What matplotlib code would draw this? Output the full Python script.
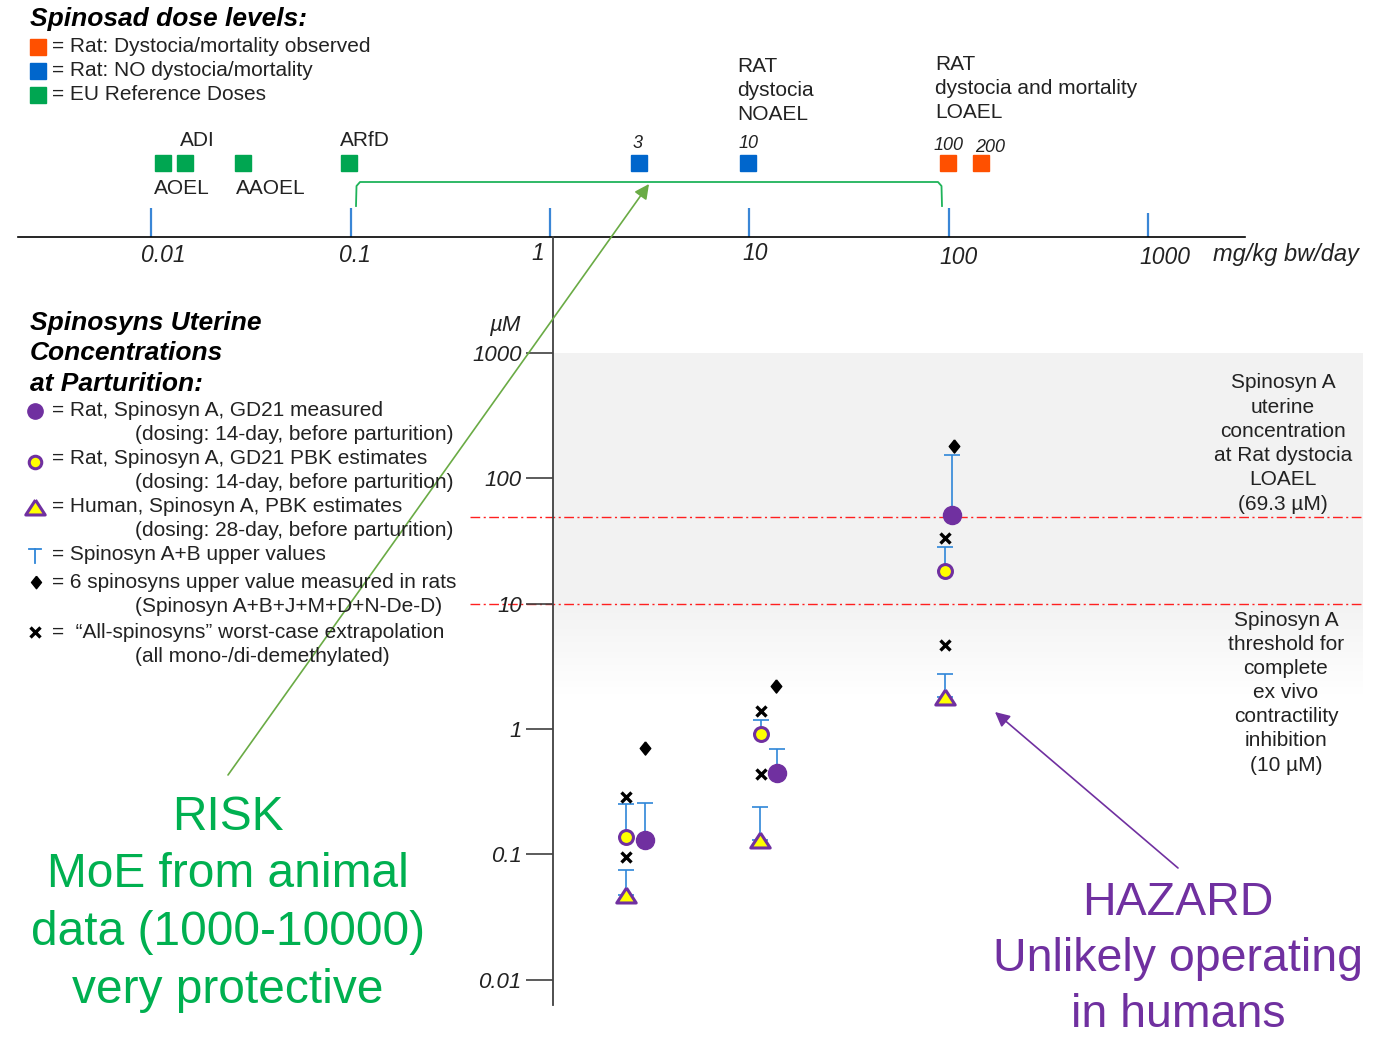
import matplotlib
matplotlib.use("Agg")
import matplotlib.pyplot as plt
import numpy as np

plt.rcParams['font.family'] = ['Liberation Sans', 'DejaVu Sans']

# ---- dose axis (mg/kg bw/day) ----
ref_dose = [0.0115, 0.0148, 0.029, 0.098]      # AOEL, ADI, AAOEL, ARfD
rat_no_dose = [2.8, 9.8]
rat_no_lbl = ['3', '10']
rat_obs_dose = [99, 145]
rat_obs_lbl = ['100', '200']
decades = [0.01, 0.1, 1, 10, 100, 1000]
decade_lbl = ['0.01', '0.1', '1', '10', '100', '1000']

# ---- uterine concentrations (uM) ----
meas_x = [2.99, 13.7, 103.4]
meas_y = [0.130, 0.448, 51]
meas_up = [0.255, 0.69, 154]
pbk_x = [2.40, 11.44, 95.2]
pbk_y = [0.138, 0.907, 18.2]
pbk_up = [0.251, 1.17, 28.5]
hum_x = [2.40, 11.3, 96.0]
hum_y = [0.0476, 0.130, 1.81]
hum_up = [0.075, 0.237, 2.75]
six_x = [2.99, 13.6, 106]
six_y = [0.70, 2.20, 181]
all_x = [2.40, 2.40, 11.4, 11.4, 95.5, 95.5]
all_y = [0.288, 0.0957, 1.40, 0.435, 33.3, 4.68]
loael_um = 49
thresh_um = 10
conc_ticks = [1000, 100, 10, 1, 0.1, 0.01]
conc_lbl = ['1000', '100', '10', '1', '0.1', '0.01']

ORANGE = '#ff5000'
BLUE = '#0066cc'
GREEN = '#00a651'
PURPLE = '#7030a0'
YELLOW = '#ffff00'
EBLUE = '#2f86d8'
TXT = '#222222'

W, H = 1388, 1042
fig = plt.figure(figsize=(W / 100, H / 100), dpi=100)

# pixel calibration of the log dose scale
X0, PXD = 550.0, 199.4
def dose_at(px):
    return 10 ** ((px - X0) / PXD)
Y0, PYD = 729.0, 125.3
def conc_at(py):
    return 10 ** ((Y0 - py) / PYD)

def fig_rect(l, t, r, b):
    return [l / W, 1 - b / H, (r - l) / W, (b - t) / H]

# ---------- top dose axis ----------
axt = fig.add_axes(fig_rect(18, 137, 1245, 237))
axt.set_xscale('log')
axt.set_xlim(dose_at(18), dose_at(1245))
axt.set_ylim(0, 1)
axt.patch.set_alpha(0)
for s in ['top', 'left', 'right']:
    axt.spines[s].set_visible(False)
axt.spines['bottom'].set_color('black')
axt.spines['bottom'].set_linewidth(1.2)
axt.set_xticks([])
axt.set_yticks([])
axt.minorticks_off()

axt.vlines(decades, 0, [0.29, 0.29, 0.29, 0.29, 0.29, 0.24], color='#3a86d6', lw=1.6)
lbl_dx = [12, 4, -12, 6, 10, 17]
lbl_dy = [-18, -18, -16, -16, -20, -20]
for d, s, dx, dy in zip(decades, decade_lbl, lbl_dx, lbl_dy):
    axt.annotate(s, xy=(d, 0), xytext=(dx, dy), textcoords='offset pixels',
                 ha='center', va='center', fontsize=16.5, style='italic', color=TXT,
                 annotation_clip=False)

sq_y = [0.74] * 4
axt.plot(ref_dose, sq_y, 's', ms=11.5, color=GREEN, mec=GREEN, clip_on=False)
axt.plot(rat_no_dose, sq_y[:2], 's', ms=11.5, color=BLUE, mec=BLUE, clip_on=False)
axt.plot(rat_obs_dose, sq_y[:2], 's', ms=11.5, color=ORANGE, mec=ORANGE, clip_on=False)
for d, s, off in zip(rat_no_dose + rat_obs_dose, rat_no_lbl + rat_obs_lbl,
                     [(-2, 20), (1, 20), (1, 17), (9, 15)]):
    axt.annotate(s, xy=(d, 0.74), xytext=off, textcoords='offset pixels',
                 ha='center', va='center', fontsize=13, style='italic', color=TXT,
                 annotation_clip=False)

# ---------- concentration panel ----------
ax = fig.add_axes(fig_rect(553, 237, 1363, 1005))
ax.set_xscale('log')
ax.set_yscale('log')
ax.set_xlim(dose_at(553), dose_at(1363))
ax.set_ylim(conc_at(1005), conc_at(237))
ax.patch.set_alpha(0)
for s in ['top', 'right', 'bottom']:
    ax.spines[s].set_visible(False)
ax.spines['left'].set_color('#404040')
ax.spines['left'].set_linewidth(1.3)
ax.set_xticks([])
ax.minorticks_off()
ax.set_yticks(conc_ticks)
ax.set_yticklabels(conc_lbl, fontsize=16, style='italic', color=TXT)
ax.tick_params(axis='y', length=19.5, width=1.2, color='#404040', pad=3)
ax.tick_params(axis='y', which='minor', length=0)

# grey band with fade below the 10 uM line
ax.axhspan(thresh_um, 1000, color='#f2f2f2', lw=0, zorder=0)
steps = np.linspace(1.0, 0.23, 31)
for i in range(30):
    c = 0.949 + (1 - 0.949) * (i + 1) / 30
    ax.axhspan(10 ** steps[i + 1], 10 ** steps[i], color=(c, c, c), lw=0, zorder=0)

for v in [loael_um, thresh_um]:
    ax.axhline(v, xmin=-0.103, xmax=1.0, color='#ff2020', lw=1.0,
               ls=(0, (7, 2.5, 1.5, 2.5)), clip_on=False, zorder=1)

def upper_bars(x, y, up):
    y = np.array(y)
    ax.errorbar(x, y, yerr=[np.zeros_like(y), np.array(up) - y], fmt='none',
                ecolor=EBLUE, elinewidth=1.2, capsize=5.5, capthick=1.2, zorder=2)

upper_bars(meas_x, meas_y, meas_up)
upper_bars(pbk_x, pbk_y, pbk_up)
upper_bars(hum_x, hum_y, hum_up)

tri = [(0, 1), (-1.3, -1), (1.3, -1), (0, 1)]
dia = [(0, 1), (0.8, 0), (0, -1), (-0.8, 0), (0, 1)]
ax.plot(meas_x, meas_y, 'o', ms=13, color=PURPLE, mec=PURPLE, zorder=3)
ax.plot(pbk_x, pbk_y, 'o', ms=10, color=YELLOW, mec=PURPLE, mew=2.2, zorder=3)
ax.plot(hum_x, hum_y, ls='none', marker=tri, ms=14, color=YELLOW, mec=PURPLE,
        mew=2.2, zorder=3)
ax.plot(six_x, six_y, ls='none', marker=dia, ms=9.5, color='black', zorder=3)
ax.plot(all_x, all_y, 'x', ms=6.5, mew=2.4, color='black', zorder=3)

# ---------- overlay: legends, labels, arrows ----------
ov = fig.add_axes([0, 0, 1, 1])
ov.set_xlim(0, W)
ov.set_ylim(H, 0)
ov.axis('off')
ov.patch.set_alpha(0)

def lines_at(x, y0, dy, lines, **kw):
    for i, s in enumerate(lines):
        ov.text(x, y0 + i * dy, s, va='center', **kw)

kw = dict(fontsize=15, color=TXT)
ov.text(30, 19, 'Spinosad dose levels:', va='center', fontsize=19,
        weight='bold', style='italic', color='black')
for yy, c, s in zip([47, 71, 95], [ORANGE, BLUE, GREEN],
                    ['= Rat: Dystocia/mortality observed', '= Rat: NO dystocia/mortality',
                     '= EU Reference Doses']):
    ov.plot(38, yy, 's', ms=11.5, color=c, mec=c)
    ov.text(52, yy, s, va='center', **kw)

ov.text(197, 141, 'ADI', ha='center', va='center', **kw)
ov.text(182, 188, 'AOEL', ha='center', va='center', **kw)
ov.text(271, 188, 'AAOEL', ha='center', va='center', **kw)
ov.text(365, 140, 'ARfD', ha='center', va='center', **kw)
lines_at(737, 67, 24, ['RAT', 'dystocia', 'NOAEL'], **kw)
lines_at(935, 64, 24, ['RAT', 'dystocia and mortality', 'LOAEL'], **kw)
ov.text(1213, 255, 'mg/kg bw/day', va='center', fontsize=17, style='italic', color=TXT)
ov.text(505, 326, 'µM', ha='center', va='center', fontsize=16, style='italic', color=TXT)

# green bracket and arrow
ov.plot([356, 356.5, 360, 938, 941.5, 942], [206, 186, 182, 182, 186, 206],
        color='#1fb35a', lw=1.3)
ov.annotate('', xy=(649, 184), xytext=(228, 775),
            arrowprops=dict(arrowstyle='-|>', color='#6aab45', lw=1.2,
                            mutation_scale=22, shrinkA=0, shrinkB=0))
ov.annotate('', xy=(995, 712), xytext=(1178, 868),
            arrowprops=dict(arrowstyle='-|>', color=PURPLE, lw=1.2,
                            mutation_scale=22, shrinkA=0, shrinkB=0))

# left legend for the concentration panel
lines_at(30, 323, 30.5, ['Spinosyns Uterine', 'Concentrations', 'at Parturition:'],
         fontsize=19, weight='bold', style='italic', color='black')
ov.plot(35, 411, 'o', ms=11, color=PURPLE, mec=PURPLE)
ov.plot(35, 462, 'o', ms=9, color=YELLOW, mec=PURPLE, mew=2.2)
ov.plot(35, 507, ls='none', marker=tri, ms=14, color=YELLOW, mec=PURPLE, mew=2.2)
ov.plot([35, 35], [549, 563], color=EBLUE, lw=1.3)
ov.plot([29, 41], [549, 549], color=EBLUE, lw=1.3)
ov.plot(36, 582, ls='none', marker=dia, ms=9, color='black')
ov.plot(35, 632, 'x', ms=6.5, mew=2.4, color='black')
first = [(411, '= Rat, Spinosyn A, GD21 measured'),
         (459, '= Rat, Spinosyn A, GD21 PBK estimates'),
         (507, '= Human, Spinosyn A, PBK estimates'),
         (555, '= Spinosyn A+B upper values'),
         (582, '= 6 spinosyns upper value measured in rats'),
         (632, '=  \u201cAll-spinosyns\u201d worst-case extrapolation')]
for yy, s in first:
    ov.text(52, yy, s, va='center', **kw)
second = [(435, '(dosing: 14-day, before parturition)'),
          (483, '(dosing: 14-day, before parturition)'),
          (530, '(dosing: 28-day, before parturition)'),
          (606, '(Spinosyn A+B+J+M+D+N-De-D)'),
          (656, '(all mono-/di-demethylated)')]
for yy, s in second:
    ov.text(135, yy, s, va='center', **kw)

# right annotations
lines_at(1283, 383, 24.2, ['Spinosyn A', 'uterine', 'concentration', 'at Rat dystocia',
                           'LOAEL', '(69.3 µM)'], ha='center', **kw)
lines_at(1286, 620, 24.2, ['Spinosyn A', 'threshold for', 'complete', 'ex vivo',
                           'contractility', 'inhibition', '(10 µM)'], ha='center', **kw)

# big conclusions
lines_at(228, 817, 57.7, ['RISK', 'MoE from animal', 'data (1000-10000)', 'very protective'],
         ha='center', fontsize=34.5, color='#00b050')
lines_at(1178, 903, 56, ['HAZARD', 'Unlikely operating', 'in humans'],
         ha='center', fontsize=33.5, color=PURPLE)

fig.savefig('out.png', dpi=100)
